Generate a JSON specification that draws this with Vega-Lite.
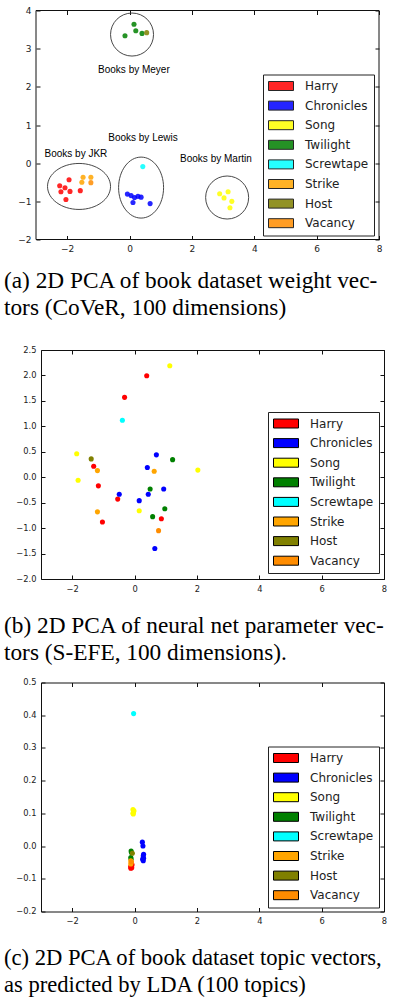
{
  "$schema": "https://vega.github.io/schema/vega-lite/v6.json",
  "padding": {"left": 3, "top": 6.5, "right": 0, "bottom": 0},
  "background": "white",
  "datasets": {
    "cover": [
      {"book": "Harry", "x": -2.24, "y": -0.59},
      {"book": "Harry", "x": -1.94, "y": -0.435},
      {"book": "Harry", "x": -2.07, "y": -0.645},
      {"book": "Harry", "x": -2.2, "y": -0.75},
      {"book": "Harry", "x": -1.91, "y": -0.74},
      {"book": "Harry", "x": -2.04, "y": -0.95},
      {"book": "Harry", "x": -1.58, "y": -0.72},
      {"book": "Chronicles", "x": -0.07, "y": -0.81},
      {"book": "Chronicles", "x": 0.05, "y": -0.85},
      {"book": "Chronicles", "x": 0.16, "y": -0.9},
      {"book": "Chronicles", "x": 0.27, "y": -0.87},
      {"book": "Chronicles", "x": 0.37, "y": -0.89},
      {"book": "Chronicles", "x": 0.11, "y": -1.03},
      {"book": "Chronicles", "x": 0.66, "y": -1.06},
      {"book": "Song", "x": 2.89, "y": -0.8},
      {"book": "Song", "x": 3.16, "y": -0.75},
      {"book": "Song", "x": 3.03, "y": -0.91},
      {"book": "Song", "x": 3.28, "y": -1.0},
      {"book": "Song", "x": 3.22, "y": -1.17},
      {"book": "Twilight", "x": -0.146, "y": 3.34},
      {"book": "Twilight", "x": 0.143, "y": 3.64},
      {"book": "Twilight", "x": 0.2, "y": 3.47},
      {"book": "Twilight", "x": 0.4, "y": 3.4},
      {"book": "Screwtape", "x": 0.425, "y": -0.09},
      {"book": "Strike", "x": -1.49, "y": -0.37},
      {"book": "Strike", "x": -1.24, "y": -0.37},
      {"book": "Strike", "x": -1.53, "y": -0.5},
      {"book": "Host", "x": 0.55, "y": 3.42},
      {"book": "Vacancy", "x": -1.24, "y": -0.51}
    ],
    "clusters": [
      {"group": "JKR", "x": -1.62, "y": -0.61},
      {"group": "Lewis", "x": 0.37, "y": -0.64},
      {"group": "Martin", "x": 3.13, "y": -0.9},
      {"group": "Meyer", "x": 0.08, "y": 3.37}
    ],
    "annotations": [
      {"label": "Books by Meyer", "x": 0.14, "y": 2.45},
      {"label": "Books by Lewis", "x": 0.43, "y": 0.65},
      {"label": "Books by JKR", "x": -1.72, "y": 0.23},
      {"label": "Books by Martin", "x": 2.77, "y": 0.1}
    ],
    "frameA": [{"x0": -3, "x1": 8, "y0": -2, "y1": 4}],
    "sefe": [
      {"book": "Harry", "x": 0.39, "y": 1.995},
      {"book": "Harry", "x": -0.32, "y": 1.57},
      {"book": "Harry", "x": -1.31, "y": 0.215},
      {"book": "Harry", "x": -1.16, "y": -0.17},
      {"book": "Harry", "x": -0.54, "y": -0.43},
      {"book": "Harry", "x": 0.86, "y": -0.815},
      {"book": "Harry", "x": -1.03, "y": -0.88},
      {"book": "Chronicles", "x": 0.7, "y": 0.44},
      {"book": "Chronicles", "x": 0.41, "y": 0.19},
      {"book": "Chronicles", "x": 0.935, "y": -0.23},
      {"book": "Chronicles", "x": -0.49, "y": -0.335},
      {"book": "Chronicles", "x": 0.44, "y": -0.335},
      {"book": "Chronicles", "x": 0.15, "y": -0.46},
      {"book": "Chronicles", "x": 0.65, "y": -1.4},
      {"book": "Song", "x": 1.13, "y": 2.19},
      {"book": "Song", "x": -1.855, "y": 0.46},
      {"book": "Song", "x": -1.81, "y": -0.06},
      {"book": "Song", "x": 2.03, "y": 0.14},
      {"book": "Song", "x": 0.15, "y": -0.66},
      {"book": "Twilight", "x": 1.22, "y": 0.345},
      {"book": "Twilight", "x": 0.5, "y": -0.23},
      {"book": "Twilight", "x": 0.97, "y": -0.62},
      {"book": "Twilight", "x": 0.58, "y": -0.775},
      {"book": "Screwtape", "x": -0.39, "y": 1.12},
      {"book": "Strike", "x": -1.19, "y": 0.13},
      {"book": "Strike", "x": 0.63, "y": 0.116},
      {"book": "Strike", "x": -1.19, "y": -0.68},
      {"book": "Host", "x": -1.39, "y": 0.36},
      {"book": "Vacancy", "x": 0.77, "y": -1.05}
    ],
    "lda": [
      {"book": "Harry", "x": -0.12, "y": -0.068},
      {"book": "Harry", "x": -0.11, "y": -0.065},
      {"book": "Harry", "x": -0.1, "y": -0.06},
      {"book": "Harry", "x": -0.08, "y": -0.057},
      {"book": "Harry", "x": -0.12, "y": -0.062},
      {"book": "Harry", "x": -0.09, "y": -0.066},
      {"book": "Harry", "x": -0.1, "y": -0.054},
      {"book": "Chronicles", "x": 0.25, "y": 0.012},
      {"book": "Chronicles", "x": 0.27, "y": 0.0},
      {"book": "Chronicles", "x": 0.28, "y": -0.03},
      {"book": "Chronicles", "x": 0.29, "y": -0.037},
      {"book": "Chronicles", "x": 0.28, "y": -0.045},
      {"book": "Chronicles", "x": 0.26, "y": -0.04},
      {"book": "Chronicles", "x": 0.29, "y": -0.025},
      {"book": "Song", "x": -0.05, "y": 0.112},
      {"book": "Song", "x": -0.03, "y": 0.105},
      {"book": "Song", "x": -0.04, "y": 0.098},
      {"book": "Song", "x": -0.02, "y": 0.108},
      {"book": "Song", "x": -0.05, "y": 0.1},
      {"book": "Twilight", "x": -0.11, "y": -0.015},
      {"book": "Twilight", "x": -0.1, "y": -0.02},
      {"book": "Twilight", "x": -0.12, "y": -0.035},
      {"book": "Twilight", "x": -0.11, "y": -0.04},
      {"book": "Screwtape", "x": -0.03, "y": 0.405},
      {"book": "Strike", "x": -0.12, "y": -0.045},
      {"book": "Strike", "x": -0.11, "y": -0.05},
      {"book": "Strike", "x": -0.12, "y": -0.055},
      {"book": "Host", "x": -0.07, "y": -0.022},
      {"book": "Vacancy", "x": -0.1, "y": -0.048}
    ]
  },
  "spacing": 24.5,
  "resolve": {"scale": {"color": "independent"}, "legend": {"color": "independent"}},
  "vconcat": [
    {
      "width": 343,
      "height": 229,
      "view": {"stroke": null},
      "title": {
        "text": ["(a) 2D PCA of book dataset weight vec-", "tors (CoVeR, 100 dimensions)"],
        "orient": "bottom", "anchor": "start", "frame": "group", "dx": -37, "offset": 16.5,
        "font": "Liberation Serif", "fontSize": 23.3, "fontWeight": "normal", "color": "#000",
        "lineHeight": 27, "baseline": "top"
      },
      "resolve": {"axis": {"x": "independent", "y": "independent"}},
      "layer": [
        {
          "data": {"name": "frameA"},
          "mark": {"type": "rect", "fillOpacity": 0, "stroke": "#111", "strokeWidth": 1},
          "encoding": {
            "x": {"field": "x0", "type": "quantitative", "scale": {"domain": [-3, 8], "range": [-5, 338], "nice": false, "zero": false}, "axis": null},
            "x2": {"field": "x1"},
            "y": {"field": "y0", "type": "quantitative", "scale": {"domain": [-2, 4], "nice": false, "zero": false}, "axis": null},
            "y2": {"field": "y1"}
          }
        },
        {
          "data": {"name": "clusters"},
          "mark": {"type": "point", "filled": false, "color": "#333", "strokeWidth": 0.9, "size": 2116, "opacity": 1},
          "encoding": {
            "x": {"field": "x", "type": "quantitative", "scale": {"domain": [-3, 8], "range": [-5, 338], "nice": false, "zero": false}, "axis": null},
            "y": {"field": "y", "type": "quantitative", "scale": {"domain": [-2, 4], "nice": false, "zero": false}, "axis": null},
            "shape": {
              "field": "group", "type": "nominal",
              "scale": {
                "domain": ["JKR", "Lewis", "Martin", "Meyer"],
                "range": [
                  "M-1.37,0A1.37,1,0,1,1,1.37,0A1.37,1,0,1,1,-1.37,0Z",
                  "M-0.978,0A0.978,1.326,0,1,1,0.978,0A0.978,1.326,0,1,1,-0.978,0Z",
                  "M-0.935,0A0.935,0.935,0,1,1,0.935,0A0.935,0.935,0,1,1,-0.935,0Z",
                  "M-0.935,0A0.935,0.935,0,1,1,0.935,0A0.935,0.935,0,1,1,-0.935,0Z"
                ]
              },
              "legend": null
            }
          }
        },
        {
          "data": {"name": "annotations"},
          "mark": {"type": "text", "font": "Liberation Sans", "fontSize": 10, "color": "#000", "align": "center", "baseline": "middle"},
          "encoding": {
            "x": {"field": "x", "type": "quantitative", "scale": {"domain": [-3, 8], "range": [-5, 338], "nice": false, "zero": false},
                  "axis": {"orient": "top", "labels": false, "values": [-2, 0, 2, 4, 6, 8], "title": null}},
            "y": {"field": "y", "type": "quantitative", "scale": {"domain": [-2, 4], "nice": false, "zero": false},
                  "axis": {"orient": "right", "offset": -5, "labels": false, "values": [-2, -1, 0, 1, 2, 3, 4], "title": null}},
            "text": {"field": "label"}
          }
        },
        {
          "data": {"name": "cover"},
          "mark": {"type": "circle", "size": 26, "opacity": 0.85},
          "encoding": {
            "x": {"field": "x", "type": "quantitative", "scale": {"domain": [-3, 8], "range": [-5, 338], "nice": false, "zero": false},
                  "axis": {"values": [-2, 0, 2, 4, 6, 8], "format": "d", "title": null, "labelFontSize": 9}},
            "y": {"field": "y", "type": "quantitative", "scale": {"domain": [-2, 4], "nice": false, "zero": false},
                  "axis": {"offset": 5, "values": [-2, -1, 0, 1, 2, 3, 4], "format": "d", "title": null, "labelFontSize": 9}},
            "color": {
              "field": "book", "type": "nominal",
              "scale": {
                "domain": ["Harry", "Chronicles", "Song", "Twilight", "Screwtape", "Strike", "Host", "Vacancy"],
                "range": ["#ff0000", "#0000ff", "#ffff00", "#008000", "#00ffff", "#ffa500", "#808000", "#ff8c00"]
              },
              "legend": {
                "title": null, "orient": "none", "legendX": 222, "legendY": 64,
                "encode": {"symbols": {"update": {"stroke": {"value": "#000"}, "strokeWidth": {"value": 1}}}}
              }
            }
          }
        }
      ]
    },
    {
      "spacing": 11.5,
      "resolve": {"scale": {"color": "independent"}, "legend": {"color": "independent"}},
      "vconcat": [
        {
          "width": 343,
          "height": 229,
          "title": {
            "text": ["(b) 2D PCA of neural net parameter vec-", "tors (S-EFE, 100 dimensions)."],
            "orient": "bottom", "anchor": "start", "frame": "group", "dx": -37, "offset": 22.5,
            "font": "Liberation Serif", "fontSize": 23.3, "fontWeight": "normal", "color": "#000",
            "lineHeight": 27, "baseline": "top"
          },
          "resolve": {"axis": {"x": "independent", "y": "independent"}},
          "data": {"name": "sefe"},
          "layer": [
            {
              "mark": {"type": "circle", "size": 26, "opacity": 0},
              "encoding": {
                "x": {"field": "x", "type": "quantitative", "scale": {"domain": [-3, 8], "nice": false, "zero": false},
                      "axis": {"orient": "top", "labels": false, "values": [-2, 0, 2, 4, 6, 8], "title": null}},
                "y": {"field": "y", "type": "quantitative", "scale": {"domain": [-2, 2.5], "nice": false, "zero": false},
                      "axis": {"orient": "right", "labels": false, "values": [-2, -1.5, -1, -0.5, 0, 0.5, 1, 1.5, 2, 2.5], "title": null}}
              }
            },
            {
              "mark": {"type": "circle", "size": 26, "opacity": 1},
              "encoding": {
                "x": {"field": "x", "type": "quantitative", "scale": {"domain": [-3, 8], "nice": false, "zero": false},
                      "axis": {"values": [-2, 0, 2, 4, 6, 8], "format": "d", "title": null}},
                "y": {"field": "y", "type": "quantitative", "scale": {"domain": [-2, 2.5], "nice": false, "zero": false},
                      "axis": {"values": [-2, -1.5, -1, -0.5, 0, 0.5, 1, 1.5, 2, 2.5], "format": ".1f", "title": null}},
                "color": {
                  "field": "book", "type": "nominal",
                  "scale": {
                    "domain": ["Harry", "Chronicles", "Song", "Twilight", "Screwtape", "Strike", "Host", "Vacancy"],
                    "range": ["#ff0000", "#0000ff", "#ffff00", "#008000", "#00ffff", "#ffa500", "#808000", "#ff8c00"]
                  },
                  "legend": {
                    "title": null, "orient": "none", "legendX": 227, "legendY": 62,
                    "encode": {"symbols": {"update": {"stroke": {"value": "#000"}, "strokeWidth": {"value": 1}}}}
                  }
                }
              }
            }
          ]
        },
        {
          "width": 343,
          "height": 229,
          "title": {
            "text": ["(c) 2D PCA of book dataset topic vectors,", "as predicted by LDA (100 topics)"],
            "orient": "bottom", "anchor": "start", "frame": "group", "dx": -37, "offset": 22.5,
            "font": "Liberation Serif", "fontSize": 22.6, "fontWeight": "normal", "color": "#000",
            "lineHeight": 27, "baseline": "top"
          },
          "resolve": {"axis": {"x": "independent", "y": "independent"}},
          "data": {"name": "lda"},
          "layer": [
            {
              "mark": {"type": "circle", "size": 26, "opacity": 0},
              "encoding": {
                "x": {"field": "x", "type": "quantitative", "scale": {"domain": [-3, 8], "nice": false, "zero": false},
                      "axis": {"orient": "top", "labels": false, "values": [-2, 0, 2, 4, 6, 8], "title": null}},
                "y": {"field": "y", "type": "quantitative", "scale": {"domain": [-0.2, 0.5], "nice": false, "zero": false},
                      "axis": {"orient": "right", "labels": false, "values": [-0.2, -0.1, 0, 0.1, 0.2, 0.3, 0.4, 0.5], "title": null}}
              }
            },
            {
              "mark": {"type": "circle", "size": 26, "opacity": 1},
              "encoding": {
                "x": {"field": "x", "type": "quantitative", "scale": {"domain": [-3, 8], "nice": false, "zero": false},
                      "axis": {"values": [-2, 0, 2, 4, 6, 8], "format": "d", "title": null}},
                "y": {"field": "y", "type": "quantitative", "scale": {"domain": [-0.2, 0.5], "nice": false, "zero": false},
                      "axis": {"values": [-0.2, -0.1, 0, 0.1, 0.2, 0.3, 0.4, 0.5], "format": ".1f", "title": null}},
                "color": {
                  "field": "book", "type": "nominal",
                  "scale": {
                    "domain": ["Harry", "Chronicles", "Song", "Twilight", "Screwtape", "Strike", "Host", "Vacancy"],
                    "range": ["#ff0000", "#0000ff", "#ffff00", "#008000", "#00ffff", "#ffa500", "#808000", "#ff8c00"]
                  },
                  "legend": {
                    "title": null, "orient": "none", "legendX": 227, "legendY": 64,
                    "encode": {"symbols": {"update": {"stroke": {"value": "#000"}, "strokeWidth": {"value": 1}}}}
                  }
                }
              }
            }
          ]
        }
      ]
    }
  ],
  "config": {
    "view": {"stroke": "#111", "strokeWidth": 1},
    "axis": {
      "domain": false, "grid": false, "ticks": true, "tickColor": "#111", "tickSize": -4, "tickWidth": 1,
      "labelFont": "DejaVu Sans", "labelFontSize": 8.3, "labelColor": "#222", "labelPadding": 9,
      "labelFlush": false, "labelOverlap": false
    },
    "legend": {
      "symbolType": "M-2.5,-0.9H2.5V0.9H-2.5Z", "symbolSize": 100, "symbolOffset": 6.5,
      "labelOffset": 18, "rowPadding": 5.6, "padding": 5.5,
      "strokeColor": "#222", "fillColor": "#fff", "cornerRadius": 0,
      "labelFont": "DejaVu Sans", "labelFontSize": 12, "labelColor": "#222", "labelLimit": 200,
      "symbolStrokeColor": "#000", "symbolStrokeWidth": 1
    }
  }
}
